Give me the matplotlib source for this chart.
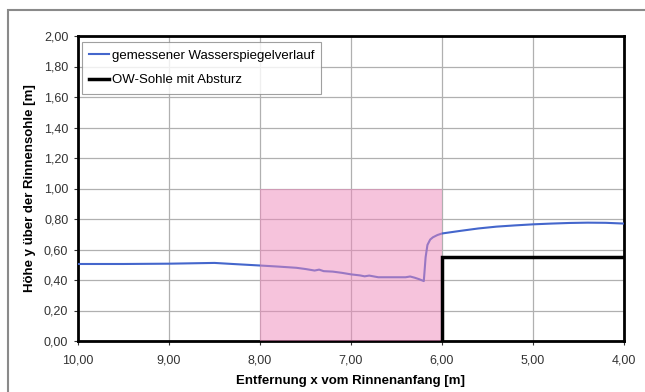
import matplotlib
matplotlib.use('Agg')
import matplotlib.pyplot as plt
from matplotlib.patches import Rectangle

plt.rcParams['font.family'] = ['Liberation Sans', 'DejaVu Sans']

# measured water surface profile (distance from flume inlet, height above bed)
x_water = [10.0, 9.5, 9.0, 8.7, 8.5, 8.3, 8.0, 7.8, 7.6, 7.5, 7.4, 7.35, 7.3,
           7.2, 7.1, 7.0, 6.9, 6.85, 6.8, 6.7, 6.6, 6.5, 6.4, 6.35, 6.3, 6.25,
           6.2, 6.18, 6.16, 6.13, 6.1, 6.05, 6.0, 5.8, 5.6, 5.4, 5.2, 5.0, 4.8,
           4.6, 4.4, 4.2, 4.0]
y_water = [0.505, 0.505, 0.507, 0.510, 0.512, 0.505, 0.495, 0.488, 0.480, 0.472,
           0.462, 0.468, 0.458, 0.455, 0.447, 0.437, 0.430, 0.424, 0.429, 0.418,
           0.418, 0.418, 0.418, 0.423, 0.415, 0.405, 0.393, 0.55, 0.63, 0.665,
           0.68, 0.695, 0.705, 0.722, 0.738, 0.750, 0.758, 0.765, 0.770, 0.774,
           0.776, 0.775, 0.770]

# upstream bed with drop
x_bed = [6.0, 6.0, 4.0]
y_bed = [0.0, 0.55, 0.55]

# highlighted zone
zone_x = (6.0, 8.0)
zone_top = 1.0

x_ticks = [10, 9, 8, 7, 6, 5, 4]
x_tick_labels = ['10,00', '9,00', '8,00', '7,00', '6,00', '5,00', '4,00']
y_ticks = [0, 0.2, 0.4, 0.6, 0.8, 1.0, 1.2, 1.4, 1.6, 1.8, 2.0]
y_tick_labels = ['0,00', '0,20', '0,40', '0,60', '0,80', '1,00', '1,20',
                 '1,40', '1,60', '1,80', '2,00']

fig = plt.figure(figsize=(6.45, 3.92), dpi=100)
fig.patch.set_facecolor('white')

# outer chart frame, runs off the right and bottom edges
fig.patches.append(Rectangle((8 / 645, -0.1), 1.2, 1.1 - 10 / 392,
                             transform=fig.transFigure, fill=False,
                             edgecolor='#8a8a8a', linewidth=1.5))

ax = fig.add_axes([78 / 645, 51 / 392, 546 / 645, 305 / 392])

ax.plot(x_water, y_water, color='#4466cc', linewidth=1.5,
        label='gemessener Wasserspiegelverlauf', zorder=3)
ax.plot(x_bed, y_bed, color='black', linewidth=2.5,
        label='OW-Sohle mit Absturz', zorder=4, solid_joinstyle='miter')
ax.add_patch(Rectangle((zone_x[0], 0), zone_x[1] - zone_x[0], zone_top,
                       facecolor='#ee88bb', alpha=0.5, edgecolor='none', zorder=3.5))

ax.set_xlim(10, 4)
ax.set_ylim(0, 2)
ax.set_xticks(x_ticks)
ax.set_xticklabels(x_tick_labels)
ax.set_yticks(y_ticks)
ax.set_yticklabels(y_tick_labels)
ax.tick_params(labelsize=9, colors='#333333', length=3, width=0.8, pad=4)
ax.xaxis.set_tick_params(pad=7)
ax.grid(True, color='#b0b0b0', linewidth=0.9)
ax.set_axisbelow(True)
for spine in ax.spines.values():
    spine.set_linewidth(2)
    spine.set_color('black')

ax.set_xlabel('Entfernung x vom Rinnenanfang [m]', fontsize=9.5,
              fontweight='bold', labelpad=6)
ax.set_ylabel('Höhe y über der Rinnensohle [m]', fontsize=9.5,
              fontweight='bold', labelpad=6)

leg = ax.legend(loc='upper left', bbox_to_anchor=(0.007, 0.98), fontsize=9.5,
                frameon=True, fancybox=False, edgecolor='#888888',
                handlelength=1.5, handletextpad=0.2, borderpad=0.55,
                labelspacing=0.95, borderaxespad=0)
leg.get_frame().set_linewidth(0.8)

fig.savefig('out.png', dpi=100, facecolor='white')
plt.close(fig)
